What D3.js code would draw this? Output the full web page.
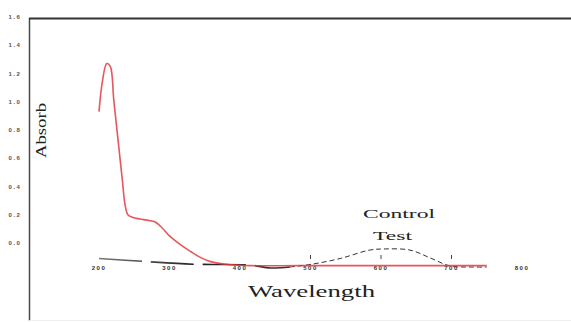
<!DOCTYPE html>
<html>
<head>
<meta charset="utf-8">
<script src="https://cdn.jsdelivr.net/npm/d3@7"></script>
<style>
  html, body { margin: 0; padding: 0; background: #fff; }
  svg { display: block; }
</style>
</head>
<body>
<svg id="chart" width="571" height="322"></svg>
<script>
// Absorbance spectra (wavelength in nm)
const testWavelength = [200, 205, 211, 216, 221, 227, 233, 237, 241, 248, 258, 270, 279, 289, 300, 315, 330, 343, 357, 380, 415, 485, 625, 750];
const testAbsorbance = [0.93, 1.15, 1.27, 1.25, 1.01, 0.73, 0.45, 0.27, 0.20, 0.18, 0.17, 0.16, 0.15, 0.11, 0.05, -0.01, -0.06, -0.10, -0.13, -0.15, -0.16, -0.16, -0.16, -0.16];

const controlWavelength = [200, 262, 333, 414, 443, 471, 502, 542, 584, 606, 641, 670, 698, 726, 750];
const controlAbsorbance = [-0.11, -0.13, -0.15, -0.156, -0.177, -0.17, -0.15, -0.11, -0.05, -0.042, -0.05, -0.106, -0.163, -0.17, -0.17];

const xTickLabels = [200, 300, 400, 500, 600, 700, 800];
const xTickMarks = [500, 600, 700];
const yTickLabels = [0.0, 0.2, 0.4, 0.6, 0.8, 1.0, 1.2, 1.4, 1.6];

const svg = d3.select("#chart");

const x = d3.scaleLinear().domain([200, 800]).range([99, 522]);
const y = d3.scaleLinear().domain([0, 1.6]).range([243, 17]);

// frame: left and top borders
svg.append("line").attr("x1", 29.5).attr("x2", 29.5).attr("y1", 18).attr("y2", 321)
  .attr("stroke", "#4a4a4a").attr("stroke-width", 1.5);
svg.append("line").attr("x1", 29).attr("x2", 571).attr("y1", 18.5).attr("y2", 18.5)
  .attr("stroke", "#333").attr("stroke-width", 2);
svg.append("line").attr("x1", 29).attr("x2", 571).attr("y1", 320.5).attr("y2", 320.5)
  .attr("stroke", "#eee").attr("stroke-width", 1);

// y tick labels
svg.append("g").selectAll("text").data(yTickLabels).join("text")
  .attr("x", 15).attr("y", d => y(d) + 2)
  .attr("text-anchor", "middle")
  .attr("font-family", "Liberation Sans, Arial, sans-serif")
  .attr("font-size", 6).attr("font-weight", "bold")
  .attr("letter-spacing", 1.5)
  .attr("fill", "#555")
  .text(d => d.toFixed(1));

// x tick labels
svg.append("g").selectAll("text").data(xTickLabels).join("text")
  .attr("x", d => x(d)).attr("y", 270)
  .attr("text-anchor", "middle")
  .attr("font-family", "Liberation Sans, Arial, sans-serif")
  .attr("font-size", 6).attr("font-weight", "bold")
  .attr("letter-spacing", 1.5)
  .attr("fill", "#333")
  .text(d => d);

// x tick marks
svg.append("g").selectAll("line").data(xTickMarks).join("line")
  .attr("x1", d => x(d)).attr("x2", d => x(d))
  .attr("y1", 255).attr("y2", 259)
  .attr("stroke", "#444").attr("stroke-width", 1);

const line = d3.line().x(d => x(d[0])).y(d => y(d[1])).curve(d3.curveCatmullRom);

// control spectrum: long dashes in the UV, short dashes through the visible band
const control = controlWavelength.map((w, i) => [w, controlAbsorbance[i]]);
const controlUV = control.filter(d => d[0] <= 471);
const controlVis = control.filter(d => d[0] >= 471);

const grad = svg.append("defs").append("linearGradient").attr("id", "ctrlGrad")
  .attr("gradientUnits", "userSpaceOnUse").attr("x1", x(200)).attr("x2", x(471)).attr("y1", 0).attr("y2", 0);
grad.append("stop").attr("offset", "0%").attr("stop-color", "#777");
grad.append("stop").attr("offset", "50%").attr("stop-color", "#222");
grad.append("stop").attr("offset", "100%").attr("stop-color", "#333");

svg.append("path").datum(controlUV).attr("d", line)
  .attr("fill", "none").attr("stroke", "url(#ctrlGrad)").attr("stroke-width", 1.6)
  .attr("stroke-dasharray", "43,9");
svg.append("path").datum(controlVis).attr("d", line)
  .attr("fill", "none").attr("stroke", "#333").attr("stroke-width", 1)
  .attr("stroke-dasharray", "5,3");

// test spectrum
const test = testWavelength.map((w, i) => [w, testAbsorbance[i]]);
svg.append("path").datum(test).attr("d", line)
  .attr("fill", "none").attr("stroke", "#e23a40").attr("stroke-opacity", 0.85)
  .attr("stroke-width", 1.6);

// series names
svg.append("text").attr("x", 363).attr("y", 218)
  .attr("font-family", "Liberation Serif, Times New Roman, serif").attr("font-size", 12.5)
  .attr("textLength", 72).attr("lengthAdjust", "spacingAndGlyphs")
  .attr("fill", "#222").text("Control");
svg.append("text").attr("x", 373).attr("y", 240)
  .attr("font-family", "Liberation Serif, Times New Roman, serif").attr("font-size", 12.5)
  .attr("textLength", 39).attr("lengthAdjust", "spacingAndGlyphs")
  .attr("fill", "#222").text("Test");

// axis titles
svg.append("text").attr("x", 248).attr("y", 297)
  .attr("font-family", "Liberation Serif, Times New Roman, serif").attr("font-size", 16)
  .attr("textLength", 127).attr("lengthAdjust", "spacingAndGlyphs")
  .attr("fill", "#222").text("Wavelength");
svg.append("text").attr("transform", "translate(46,158) rotate(-90)")
  .attr("font-family", "Liberation Serif, Times New Roman, serif").attr("font-size", 14)
  .attr("textLength", 55).attr("lengthAdjust", "spacingAndGlyphs")
  .attr("fill", "#222").text("Absorb");
</script>
</body>
</html>
